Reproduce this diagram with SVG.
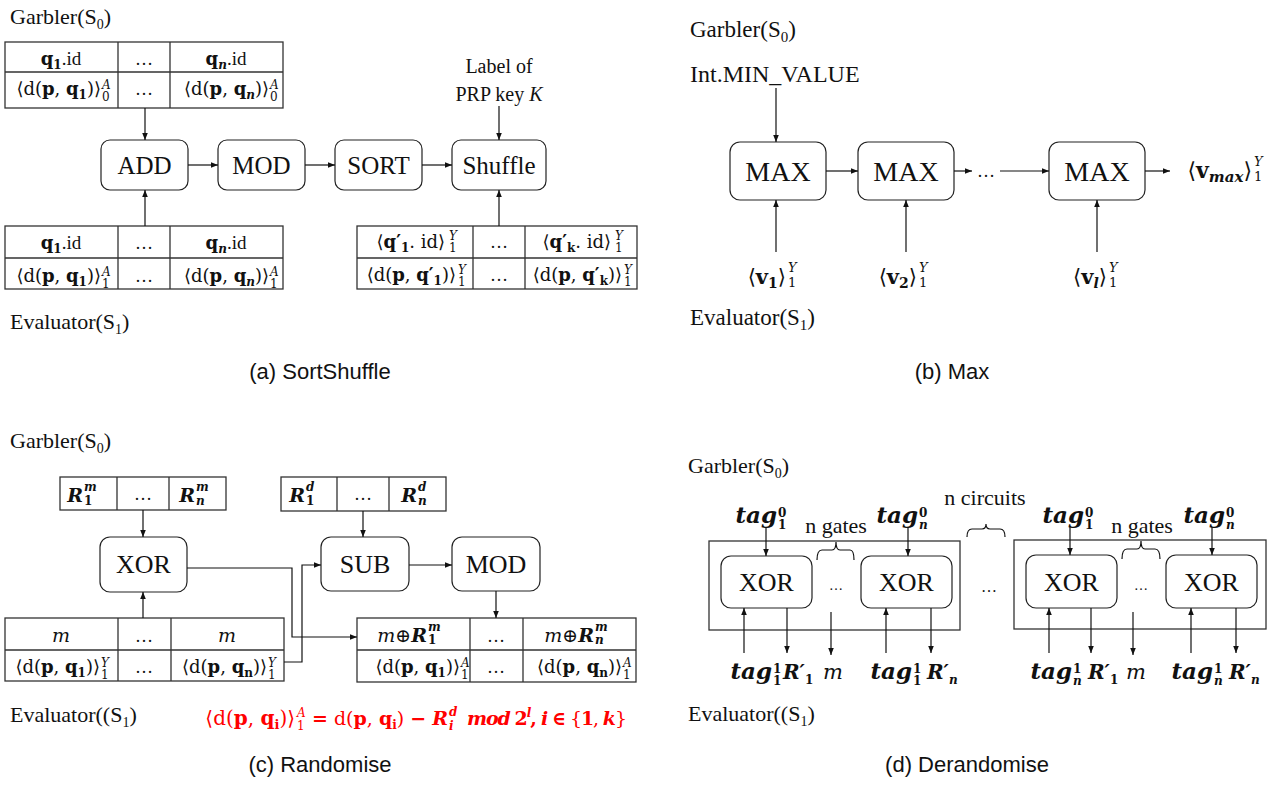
<svg xmlns="http://www.w3.org/2000/svg" width="1275" height="789" viewBox="0 0 1275 789">
<defs>
<style>
.t{font-family:"Liberation Serif","Times New Roman",serif;fill:#111}
.m{font-family:"DejaVu Serif","Liberation Serif",serif;fill:#111}
.cap{font-family:"Liberation Sans",Arial,sans-serif;font-size:22px;fill:#111}
.lbl{font-size:22px}
.bx{fill:#fff;stroke:#222;stroke-width:1.2}
.tb{fill:none;stroke:#333;stroke-width:1.3}
.ln{fill:none;stroke:#111;stroke-width:1.2}
.a{marker-end:url(#ah)}
.b{font-weight:bold}
.i{font-style:italic}
.bi{font-weight:bold;font-style:italic}
.red{fill:#ff0000}
.red tspan{fill:#ff0000}
</style>
<marker id="ah" markerWidth="8" markerHeight="8" refX="7" refY="4" orient="auto" markerUnits="userSpaceOnUse"><path d="M0,1.2 L7,4 L0,6.8 z" fill="#111"/></marker>
</defs>
<rect width="1275" height="789" fill="#fff"/>

<!-- ===== Panel (a) ===== -->
<g id="a-labels">
<text class="t lbl" x="10" y="24">Garbler(S<tspan font-size="14" dy="5">0</tspan><tspan dy="-5">)</tspan></text>
<text class="t lbl" x="10" y="329">Evaluator(S<tspan font-size="14" dy="5">1</tspan><tspan dy="-5">)</tspan></text>
<text class="t" font-size="20" x="499" y="73" text-anchor="middle">Label of</text>
<text class="t" font-size="20" x="499" y="101" text-anchor="middle">PRP key <tspan class="i">K</tspan></text>
<text class="cap" x="320" y="379" text-anchor="middle">(a) SortShuffle</text>
</g>
<g id="a-table-top">
<rect class="tb" x="5" y="42" width="278" height="66"/>
<path class="tb" d="M5,72 H283 M118,42 V108 M170,42 V108"/>
<text class="m" font-size="18" x="61" y="65" text-anchor="middle"><tspan class="b">q</tspan><tspan class="b" font-size="12" dy="4">1</tspan><tspan class="t" font-size="19" dy="-4">.id</tspan></text>
<text class="t" font-size="18" x="144" y="65" text-anchor="middle">…</text>
<text class="m" font-size="18" x="226" y="65" text-anchor="middle"><tspan class="b">q</tspan><tspan class="bi" font-size="12" dy="4">n</tspan><tspan class="t" font-size="19" dy="-4">.id</tspan></text>
<text class="m" font-size="18" x="101" y="95" text-anchor="end">⟨d(<tspan class="b">p</tspan>, <tspan class="b">q</tspan><tspan class="b" font-size="12" dy="4">1</tspan><tspan dy="-4">)⟩</tspan></text>
<text class="m i" font-size="12" x="102" y="89">A</text>
<text class="m" font-size="12" x="102" y="101">0</text>
<text class="t" font-size="18" x="144" y="95" text-anchor="middle">…</text>
<text class="m" font-size="18" x="269" y="95" text-anchor="end">⟨d(<tspan class="b">p</tspan>, <tspan class="b">q</tspan><tspan class="bi" font-size="12" dy="4">n</tspan><tspan dy="-4">)⟩</tspan></text>
<text class="m i" font-size="12" x="270" y="89">A</text>
<text class="m" font-size="12" x="270" y="101">0</text>
</g>
<g id="a-table-bl">
<rect class="tb" x="5" y="226" width="278" height="63"/>
<path class="tb" d="M5,258 H283 M118,226 V289 M170,226 V289"/>
<text class="m" font-size="18" x="61" y="249" text-anchor="middle"><tspan class="b">q</tspan><tspan class="b" font-size="12" dy="4">1</tspan><tspan class="t" font-size="19" dy="-4">.id</tspan></text>
<text class="t" font-size="18" x="144" y="249" text-anchor="middle">…</text>
<text class="m" font-size="18" x="226" y="249" text-anchor="middle"><tspan class="b">q</tspan><tspan class="bi" font-size="12" dy="4">n</tspan><tspan class="t" font-size="19" dy="-4">.id</tspan></text>
<text class="m" font-size="18" x="101" y="282" text-anchor="end">⟨d(<tspan class="b">p</tspan>, <tspan class="b">q</tspan><tspan class="b" font-size="12" dy="4">1</tspan><tspan dy="-4">)⟩</tspan></text>
<text class="m i" font-size="12" x="102" y="276">A</text>
<text class="m" font-size="12" x="102" y="288">1</text>
<text class="t" font-size="18" x="144" y="282" text-anchor="middle">…</text>
<text class="m" font-size="18" x="269" y="282" text-anchor="end">⟨d(<tspan class="b">p</tspan>, <tspan class="b">q</tspan><tspan class="bi" font-size="12" dy="4">n</tspan><tspan dy="-4">)⟩</tspan></text>
<text class="m i" font-size="12" x="270" y="276">A</text>
<text class="m" font-size="12" x="270" y="288">1</text>
</g>
<g id="a-table-br">
<rect class="tb" x="357" y="226" width="280" height="63"/>
<path class="tb" d="M357,258 H637 M473,226 V289 M525,226 V289"/>
<text class="m" font-size="18" x="445" y="248" text-anchor="end">⟨<tspan class="b">q′</tspan><tspan class="b" font-size="12" dy="4">1</tspan><tspan dy="-4">. id⟩</tspan></text>
<text class="m i" font-size="12" x="449" y="240">Y</text>
<text class="m" font-size="12" x="449" y="252">1</text>
<text class="t" font-size="18" x="499" y="248" text-anchor="middle">…</text>
<text class="m" font-size="18" x="611" y="248" text-anchor="end">⟨<tspan class="b">q′</tspan><tspan class="b" font-size="12" dy="4">k</tspan><tspan dy="-4">. id⟩</tspan></text>
<text class="m i" font-size="12" x="615" y="240">Y</text>
<text class="m" font-size="12" x="615" y="252">1</text>
<text class="m" font-size="18" x="456" y="281" text-anchor="end">⟨d(<tspan class="b">p</tspan>, <tspan class="b">q′</tspan><tspan class="b" font-size="12" dy="4">1</tspan><tspan dy="-4">)⟩</tspan></text>
<text class="m i" font-size="12" x="458" y="274">Y</text>
<text class="m" font-size="12" x="458" y="286">1</text>
<text class="t" font-size="18" x="499" y="281" text-anchor="middle">…</text>
<text class="m" font-size="18" x="622" y="281" text-anchor="end">⟨d(<tspan class="b">p</tspan>, <tspan class="b">q′</tspan><tspan class="b" font-size="12" dy="4">k</tspan><tspan dy="-4">)⟩</tspan></text>
<text class="m i" font-size="12" x="624" y="274">Y</text>
<text class="m" font-size="12" x="624" y="286">1</text>
</g>
<g id="a-add"><rect class="bx" x="101" y="140" width="87" height="50" rx="9"/><text class="t" font-size="25" x="144.5" y="174" text-anchor="middle">ADD</text></g>
<g id="a-mod"><rect class="bx" x="218" y="140" width="87" height="50" rx="9"/><text class="t" font-size="25" x="261.5" y="174" text-anchor="middle">MOD</text></g>
<g id="a-sort"><rect class="bx" x="335" y="140" width="87" height="50" rx="9"/><text class="t" font-size="25" x="378.5" y="174" text-anchor="middle">SORT</text></g>
<g id="a-shuffle"><rect class="bx" x="452" y="140" width="94" height="50" rx="9"/><text class="t" font-size="25" x="499" y="174" text-anchor="middle">Shuffle</text></g>
<g id="a-connectors">
<path class="ln a" d="M145,108 V140"/>
<path class="ln a" d="M188,165 H218"/>
<path class="ln a" d="M305,165 H335"/>
<path class="ln a" d="M422,165 H452"/>
<path class="ln a" d="M499,106 V140"/>
<path class="ln a" d="M145,226 V190"/>
<path class="ln a" d="M499,226 V190"/>
</g>

<!-- ===== Panel (b) ===== -->
<g id="b-labels">
<text class="t" font-size="23" x="690" y="37">Garbler(S<tspan font-size="15" dy="5">0</tspan><tspan dy="-5">)</tspan></text>
<text class="t" font-size="24" x="690" y="82">Int.MIN_VALUE</text>
<text class="t" font-size="23" x="690" y="325">Evaluator(S<tspan font-size="15" dy="5">1</tspan><tspan dy="-5">)</tspan></text>
<text class="t" font-size="18" x="986" y="177" text-anchor="middle">…</text>
<text class="m" font-size="21" x="786" y="284" text-anchor="end">⟨<tspan class="b">v</tspan><tspan class="b" font-size="14" dy="4">1</tspan><tspan dy="-4">⟩</tspan></text>
<text class="m i" font-size="13" x="788" y="272">Y</text>
<text class="m" font-size="13" x="788" y="287">1</text>
<text class="m" font-size="21" x="917" y="284" text-anchor="end">⟨<tspan class="b">v</tspan><tspan class="b" font-size="14" dy="4">2</tspan><tspan dy="-4">⟩</tspan></text>
<text class="m i" font-size="13" x="919" y="272">Y</text>
<text class="m" font-size="13" x="919" y="287">1</text>
<text class="m" font-size="21" x="1107" y="284" text-anchor="end">⟨<tspan class="b">v</tspan><tspan class="bi" font-size="14" dy="4">l</tspan><tspan dy="-4">⟩</tspan></text>
<text class="m i" font-size="13" x="1109" y="272">Y</text>
<text class="m" font-size="13" x="1109" y="287">1</text>
<text class="m" font-size="22" x="1252" y="178" text-anchor="end">⟨<tspan class="b">v</tspan><tspan class="bi" font-size="15" dy="4">max</tspan><tspan dy="-4">⟩</tspan></text>
<text class="m i" font-size="13" x="1254" y="166">Y</text>
<text class="m" font-size="13" x="1254" y="181">1</text>
<text class="cap" x="952" y="379" text-anchor="middle">(b) Max</text>
</g>
<g id="b-max1"><rect class="bx" x="730" y="142" width="96" height="58" rx="10"/><text class="t" font-size="28" x="778" y="181" text-anchor="middle">MAX</text></g>
<g id="b-max2"><rect class="bx" x="858" y="142" width="96" height="58" rx="10"/><text class="t" font-size="28" x="906" y="181" text-anchor="middle">MAX</text></g>
<g id="b-max3"><rect class="bx" x="1049" y="142" width="96" height="58" rx="10"/><text class="t" font-size="28" x="1097" y="181" text-anchor="middle">MAX</text></g>
<g id="b-connectors">
<path class="ln a" d="M776,88 V142"/>
<path class="ln a" d="M826,171 H858"/>
<path class="ln a" d="M954,171 H972"/>
<path class="ln a" d="M1000,171 H1049"/>
<path class="ln a" d="M1145,171 H1170"/>
<path class="ln a" d="M776,252 V200"/>
<path class="ln a" d="M906,252 V200"/>
<path class="ln a" d="M1097,252 V200"/>
</g>

<!-- ===== Panel (c) ===== -->
<g id="c-labels">
<text class="t lbl" x="10" y="448">Garbler(S<tspan font-size="14" dy="5">0</tspan><tspan dy="-5">)</tspan></text>
<text class="t lbl" x="10" y="722">Evaluator((S<tspan font-size="14" dy="5">1</tspan><tspan dy="-5">)</tspan></text>
<text class="m red" font-size="20" x="295" y="725" text-anchor="end">⟨d(<tspan class="b">p</tspan>, <tspan class="b">q</tspan><tspan class="b" font-size="13" dy="4">i</tspan><tspan dy="-4">)⟩</tspan></text>
<text class="m i red" font-size="12" x="297" y="717">A</text>
<text class="m red" font-size="12" x="297" y="730">1</text>
<text class="m red" font-size="19" x="448" y="725" text-anchor="end"><tspan class="b">=</tspan> d(<tspan class="b">p</tspan>, <tspan class="b">q</tspan><tspan class="b" font-size="12" dy="4">i</tspan><tspan dy="-4">) </tspan><tspan class="b">−</tspan> <tspan class="bi">R</tspan></text>
<text class="m bi red" font-size="12" x="449" y="716">d</text>
<text class="m bi red" font-size="12" x="449" y="730">i</text>
<text class="m red" font-size="19" x="467" y="725" textLength="160" lengthAdjust="spacing"><tspan class="bi">mod</tspan> <tspan class="b">2</tspan><tspan class="bi" font-size="12" dy="-8">l</tspan><tspan class="b" dy="8">, </tspan><tspan class="bi">i</tspan> <tspan class="b">∈</tspan> {<tspan class="b">1</tspan>, <tspan class="bi">k</tspan>}</text>
<text class="cap" x="320" y="772" text-anchor="middle">(c) Randomise</text>
</g>
<g id="c-table-rm">
<rect class="tb" x="60" y="477" width="166" height="33"/>
<path class="tb" d="M117,477 V510 M169,477 V510"/>
<text class="m bi" font-size="19" x="83" y="502" text-anchor="end">R</text>
<text class="m bi" font-size="12" x="84" y="491">m</text>
<text class="m b" font-size="12" x="84" y="505">1</text>
<text class="t" font-size="18" x="143" y="500" text-anchor="middle">…</text>
<text class="m bi" font-size="19" x="195" y="502" text-anchor="end">R</text>
<text class="m bi" font-size="12" x="196" y="491">m</text>
<text class="m bi" font-size="12" x="196" y="505">n</text>
</g>
<g id="c-table-rd">
<rect class="tb" x="281" y="477" width="165" height="34"/>
<path class="tb" d="M337,477 V511 M389,477 V511"/>
<text class="m bi" font-size="19" x="305" y="502" text-anchor="end">R</text>
<text class="m bi" font-size="12" x="306" y="491">d</text>
<text class="m b" font-size="12" x="306" y="505">1</text>
<text class="t" font-size="18" x="363" y="500" text-anchor="middle">…</text>
<text class="m bi" font-size="19" x="417" y="502" text-anchor="end">R</text>
<text class="m bi" font-size="12" x="418" y="491">d</text>
<text class="m bi" font-size="12" x="418" y="505">n</text>
</g>
<g id="c-table-bl">
<rect class="tb" x="5" y="618" width="279" height="63"/>
<path class="tb" d="M5,650 H284 M118,618 V681 M171,618 V681"/>
<text class="m i" font-size="19" x="61" y="642" text-anchor="middle">m</text>
<text class="t" font-size="18" x="144" y="642" text-anchor="middle">…</text>
<text class="m i" font-size="19" x="227" y="642" text-anchor="middle">m</text>
<text class="m" font-size="18" x="100" y="673" text-anchor="end">⟨d(<tspan class="b">p</tspan>, <tspan class="b">q</tspan><tspan class="b" font-size="12" dy="4">1</tspan><tspan dy="-4">)⟩</tspan></text>
<text class="m i" font-size="12" x="101" y="667">Y</text>
<text class="m" font-size="12" x="101" y="679">1</text>
<text class="t" font-size="18" x="144" y="673" text-anchor="middle">…</text>
<text class="m" font-size="18" x="267" y="673" text-anchor="end">⟨d(<tspan class="b">p</tspan>, <tspan class="b">q</tspan><tspan class="b" font-size="12" dy="4">n</tspan><tspan dy="-4">)⟩</tspan></text>
<text class="m i" font-size="12" x="268" y="667">Y</text>
<text class="m" font-size="12" x="268" y="679">1</text>
</g>
<g id="c-table-br">
<rect class="tb" x="357" y="618" width="279" height="64"/>
<path class="tb" d="M357,650 H636 M470,618 V682 M523,618 V682"/>
<text class="m" font-size="19" x="427" y="642" text-anchor="end"><tspan class="i">m</tspan>⊕<tspan class="bi">R</tspan></text>
<text class="m bi" font-size="12" x="428" y="631">m</text>
<text class="m b" font-size="12" x="428" y="644">1</text>
<text class="t" font-size="18" x="496" y="642" text-anchor="middle">…</text>
<text class="m" font-size="19" x="594" y="642" text-anchor="end"><tspan class="i">m</tspan>⊕<tspan class="bi">R</tspan></text>
<text class="m bi" font-size="12" x="595" y="631">m</text>
<text class="m bi" font-size="12" x="595" y="644">n</text>
<text class="m" font-size="18" x="460" y="673" text-anchor="end">⟨d(<tspan class="b">p</tspan>, <tspan class="b">q</tspan><tspan class="b" font-size="12" dy="4">1</tspan><tspan dy="-4">)⟩</tspan></text>
<text class="m i" font-size="12" x="461" y="667">A</text>
<text class="m" font-size="12" x="461" y="679">1</text>
<text class="t" font-size="18" x="496" y="673" text-anchor="middle">…</text>
<text class="m" font-size="18" x="622" y="673" text-anchor="end">⟨d(<tspan class="b">p</tspan>, <tspan class="b">q</tspan><tspan class="b" font-size="12" dy="4">n</tspan><tspan dy="-4">)⟩</tspan></text>
<text class="m i" font-size="12" x="623" y="667">A</text>
<text class="m" font-size="12" x="623" y="679">1</text>
</g>
<g id="c-xor"><rect class="bx" x="100" y="537" width="87" height="55" rx="10"/><text class="t" font-size="26" x="143.5" y="573" text-anchor="middle">XOR</text></g>
<g id="c-sub"><rect class="bx" x="321" y="537" width="88" height="54" rx="10"/><text class="t" font-size="26" x="365" y="573" text-anchor="middle">SUB</text></g>
<g id="c-mod"><rect class="bx" x="452" y="537" width="88" height="54" rx="10"/><text class="t" font-size="26" x="496" y="573" text-anchor="middle">MOD</text></g>
<g id="c-connectors">
<path class="ln a" d="M143,510 V537"/>
<path class="ln a" d="M363,511 V537"/>
<path class="ln a" d="M409,565 H452"/>
<path class="ln a" d="M496,591 V618"/>
<path class="ln a" d="M187,568 H292 V637 H357"/>
<path class="ln a" d="M284,662 H302 V565 H321"/>
<path class="ln a" d="M143,618 V592"/>
</g>

<!-- ===== Panel (d) ===== -->
<g id="d-labels">
<text class="t lbl" x="688" y="473">Garbler(S<tspan font-size="14" dy="5">0</tspan><tspan dy="-5">)</tspan></text>
<text class="t lbl" x="688" y="721">Evaluator((S<tspan font-size="14" dy="5">1</tspan><tspan dy="-5">)</tspan></text>
<text class="t" font-size="22" x="985" y="505" text-anchor="middle">n circuits</text>
<path class="ln" d="M967,537 Q967,529 972,529 L982,529 Q986,529 986,524 Q986,529 990,529 L1000,529 Q1005,529 1005,537"/>
<text class="t" font-size="16" x="989" y="592" text-anchor="middle">…</text>
<text class="cap" x="967" y="772" text-anchor="middle">(d) Derandomise</text>
</g>
<g id="d-circuit1">
<rect class="tb" x="709" y="541" width="251" height="89"/>
<text class="t" font-size="22" x="836" y="533" text-anchor="middle">n gates</text>
<path class="ln" d="M817,560 Q817,550 822,550 L832,550 Q836,550 836,542 Q836,550 840,550 L850,550 Q854,550 854,560"/>
<text class="t" font-size="14" x="836" y="590" text-anchor="middle">…</text>
<g id="d1-xor1"><rect class="bx" x="721" y="556" width="91" height="52" rx="10"/><text class="t" font-size="26" x="766.5" y="591" text-anchor="middle">XOR</text></g>
<g id="d1-xor2"><rect class="bx" x="861" y="556" width="91" height="52" rx="10"/><text class="t" font-size="26" x="906.5" y="591" text-anchor="middle">XOR</text></g>
<text class="m bi" font-size="23" x="777" y="523" text-anchor="end">tag</text>
<text class="m b" font-size="12" x="778" y="517">0</text>
<text class="m b" font-size="12" x="778" y="529">1</text>
<text class="m bi" font-size="23" x="918" y="523" text-anchor="end">tag</text>
<text class="m b" font-size="12" x="919" y="517">0</text>
<text class="m bi" font-size="12" x="919" y="529">n</text>
<text class="m bi" font-size="23" x="772" y="679" text-anchor="end">tag</text>
<text class="m b" font-size="12" x="773" y="673">1</text>
<text class="m b" font-size="12" x="773" y="685">1</text>
<text class="m bi" font-size="20" x="783" y="679"><tspan>R′</tspan><tspan class="b" font-style="normal" font-size="12" dy="5">1</tspan></text>
<text class="m i" font-size="21" x="833" y="679" text-anchor="middle">m</text>
<text class="m bi" font-size="23" x="912" y="679" text-anchor="end">tag</text>
<text class="m b" font-size="12" x="913" y="673">1</text>
<text class="m b" font-size="12" x="913" y="685">1</text>
<text class="m bi" font-size="20" x="927" y="679"><tspan>R′</tspan><tspan font-size="12" dy="5">n</tspan></text>
</g>
<g id="d-circuit2">
<rect class="tb" x="1014" y="540" width="252" height="89"/>
<text class="t" font-size="22" x="1142" y="533" text-anchor="middle">n gates</text>
<path class="ln" d="M1122,559 Q1122,549 1127,549 L1137,549 Q1141,549 1141,541 Q1141,549 1145,549 L1155,549 Q1160,549 1160,559"/>
<text class="t" font-size="14" x="1141" y="590" text-anchor="middle">…</text>
<g id="d2-xor1"><rect class="bx" x="1026" y="555" width="91" height="53" rx="10"/><text class="t" font-size="26" x="1071.5" y="591" text-anchor="middle">XOR</text></g>
<g id="d2-xor2"><rect class="bx" x="1166" y="555" width="91" height="53" rx="10"/><text class="t" font-size="26" x="1211.5" y="591" text-anchor="middle">XOR</text></g>
<text class="m bi" font-size="23" x="1084" y="523" text-anchor="end">tag</text>
<text class="m b" font-size="12" x="1085" y="517">0</text>
<text class="m b" font-size="12" x="1085" y="529">1</text>
<text class="m bi" font-size="23" x="1225" y="523" text-anchor="end">tag</text>
<text class="m b" font-size="12" x="1226" y="517">0</text>
<text class="m bi" font-size="12" x="1226" y="529">n</text>
<text class="m bi" font-size="23" x="1072" y="679" text-anchor="end">tag</text>
<text class="m b" font-size="12" x="1073" y="673">1</text>
<text class="m bi" font-size="12" x="1073" y="685">n</text>
<text class="m bi" font-size="20" x="1088" y="679"><tspan>R′</tspan><tspan class="b" font-style="normal" font-size="12" dy="5">1</tspan></text>
<text class="m i" font-size="21" x="1136" y="679" text-anchor="middle">m</text>
<text class="m bi" font-size="23" x="1213" y="679" text-anchor="end">tag</text>
<text class="m b" font-size="12" x="1214" y="673">1</text>
<text class="m bi" font-size="12" x="1214" y="685">n</text>
<text class="m bi" font-size="20" x="1229" y="679"><tspan>R′</tspan><tspan font-size="12" dy="5">n</tspan></text>
</g>
<g id="d-connectors">
<path class="ln a" d="M766,527 V556"/>
<path class="ln a" d="M908,527 V556"/>
<path class="ln a" d="M744,653 V608"/>
<path class="ln a" d="M787,608 V653"/>
<path class="ln a" d="M831,612 V655"/>
<path class="ln a" d="M886,653 V608"/>
<path class="ln a" d="M931,608 V653"/>
<path class="ln a" d="M1070,527 V555"/>
<path class="ln a" d="M1212,527 V555"/>
<path class="ln a" d="M1049,653 V608"/>
<path class="ln a" d="M1091,608 V653"/>
<path class="ln a" d="M1133,612 V655"/>
<path class="ln a" d="M1191,653 V608"/>
<path class="ln a" d="M1236,608 V653"/>
</g>
</svg>
